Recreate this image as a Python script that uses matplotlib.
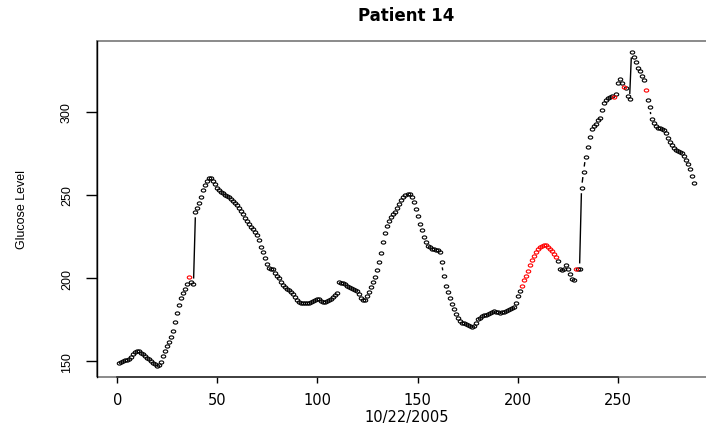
import matplotlib.pyplot as plt
import numpy as np
from matplotlib.path import Path
from matplotlib.patches import Rectangle
from matplotlib import font_manager

# glucose readings, one every 5 minutes (index 1..288)
glucose = [
    148.6, 149.6, 150.2, 150.5, 150.8, 151.2, 152.5, 154.2, 155.5, 156.2,
    155.8, 155.0, 154.0, 153.0, 152.0, 151.0, 150.0, 149.0, 148.0, 147.2,
    147.5, 149.6, 153.2, 156.2, 159.2, 161.5, 164.3, 168.3, 173.4, 179.0,
    183.8, 187.9, 190.9, 193.5, 196.5, 200.9, 197.9, 196.5, 239.8, 242.0,
    245.3, 249.0, 253.0, 256.3, 258.5, 260.2, 260.0, 258.5, 256.5, 254.5,
    253.0, 252.0, 251.0, 250.2, 249.5, 248.6, 247.5, 246.5, 245.0, 243.9,
    242.0, 240.2, 238.5, 236.2, 234.2, 232.5, 231.0, 229.5, 227.5, 225.7,
    222.7, 219.0, 215.7, 212.0, 208.6, 206.3, 205.6, 205.2, 203.0, 201.5,
    199.8, 197.8, 196.0, 194.5, 193.5, 192.6, 191.5, 190.3, 188.5, 186.5,
    185.4, 185.2, 185.0, 185.0, 185.0, 185.2, 185.6, 186.0, 186.8, 187.6,
    187.2, 186.2, 185.4, 185.4, 186.0, 186.8, 187.6, 188.5, 190.0, 191.3,
    197.5, 197.3, 197.0, 196.2, 195.5, 194.5, 194.0, 193.5, 193.0, 192.2,
    190.5, 188.0, 187.0, 187.0, 189.0, 191.5, 194.5, 197.5, 200.9, 205.0,
    209.6, 215.0, 221.5, 227.0, 231.5, 234.5, 236.8, 238.4, 240.0, 242.0,
    244.5, 247.3, 249.0, 250.3, 250.9, 250.5, 248.9, 245.8, 241.8, 237.2,
    232.8, 228.7, 224.7, 221.5, 219.5, 218.5, 217.8, 217.5, 217.2, 216.8,
    215.7, 209.6, 201.5, 195.5, 191.5, 187.9, 184.4, 181.5, 178.5, 176.0,
    174.2, 173.2, 172.8, 172.3, 171.8, 171.0, 170.4, 171.0, 173.0, 175.5,
    176.2, 177.0, 177.5, 178.0, 178.4, 179.0, 179.4, 180.4, 179.8, 179.4,
    179.0, 179.5, 179.8, 180.3, 180.8, 181.3, 181.8, 182.5, 185.0, 189.0,
    192.5, 195.5, 198.6, 201.5, 204.5, 207.6, 210.6, 213.3, 215.7, 217.7,
    218.7, 219.5, 219.7, 219.7, 219.0, 217.8, 216.3, 214.5, 212.7, 210.0,
    205.6, 204.8, 205.6, 208.0, 205.6, 202.6, 199.5, 199.1, 205.6, 205.6,
    205.6, 254.3, 264.0, 273.0, 279.0, 285.0, 289.7, 291.5, 293.0, 295.0,
    296.5, 301.2, 305.3, 307.3, 308.7, 309.3, 309.9, 309.3, 310.7, 317.4,
    319.8, 317.8, 315.3, 314.4, 309.9, 307.7, 336.1, 333.4, 330.0, 326.4,
    324.8, 322.0, 319.2, 313.3, 307.3, 303.2, 295.6, 293.2, 291.8, 290.6,
    290.2, 290.0, 289.2, 287.2, 284.1, 281.7, 280.1, 278.1, 277.3, 276.6,
    275.8, 275.1, 273.7, 271.0, 268.6, 265.6, 261.5, 257.3,
]

# readings drawn in red
red_points = [36, 202, 203, 204, 205, 206, 207, 208, 209, 210, 211, 212,
              213, 214, 215, 216, 217, 218, 219, 229, 248, 253, 264]

title = "Patient 14"
x_label = "10/22/2005"
y_label = "Glucose Level"
x_ticks = [0, 50, 100, 150, 200, 250]
y_ticks = [150, 200, 250, 300]

# the y side text of the original is squeezed; use a narrow face if there is one
try:
    font_manager.findfont(font_manager.FontProperties(family='Liberation Sans Narrow'),
                          fallback_to_default=False)
    narrow = ['Liberation Sans Narrow', 'DejaVu Sans']
    ytick_size, ylab_size = 9.5, 10
except ValueError:
    narrow = ['Liberation Sans', 'DejaVu Sans']
    ytick_size, ylab_size = 9, 9

idx = np.arange(1, len(glucose) + 1)
vals = np.array(glucose)
is_red = np.isin(idx, red_points)

fig = plt.figure(figsize=(7.06, 4.31), dpi=100)
ax = fig.add_axes([96.5 / 706, 53 / 431, 620 / 706, 336 / 431])
ax.set_xlim(-10.48, 299.48)
ax.set_ylim(140.4, 342.8)

# open circles, a bit flattened like the resized original
circ = Path.unit_circle()
oval = Path(circ.vertices * [1.0, 0.72], circ.codes)

ax.plot(idx[~is_red], vals[~is_red], linestyle='none', marker=oval, ms=3.2,
        mfc='none', mec='black', mew=0.8)
ax.plot(idx[is_red], vals[is_red], linestyle='none', marker=oval, ms=3.2,
        mfc='none', mec='red', mew=0.8)

# R type="b": connecting lines only show outside the circles
gap = 6.0
pts = ax.transData.transform(np.column_stack([idx, vals]))
inv = ax.transData.inverted()
for p, q in zip(pts[:-1], pts[1:]):
    d = q - p
    dist = np.hypot(d[0], d[1])
    if dist <= 2 * gap:
        continue
    u = d / dist
    a = inv.transform(p + u * gap)
    b = inv.transform(q - u * gap)
    ax.plot([a[0], b[0]], [a[1], b[1]], color='black', lw=1.0)

# box + R style axes
ax.add_patch(Rectangle((0, 0), 1, 1, transform=ax.transAxes, fill=False,
                       ec='#8a8a8a', lw=1.4, clip_on=False))
for s in ['top', 'right']:
    ax.spines[s].set_visible(False)
ax.spines['bottom'].set_bounds(x_ticks[0], x_ticks[-1])
ax.spines['left'].set_linewidth(1.0)
ax.spines['bottom'].set_linewidth(1.2)
ax.spines['bottom'].set_color('#333333')

ax.set_xticks(x_ticks)
ax.set_yticks(y_ticks)
ax.tick_params(axis='x', direction='out', length=4.5, width=1, pad=6,
               labelsize=10.5)
ax.tick_params(axis='y', direction='out', length=8, width=1, pad=9,
               labelsize=ytick_size, labelrotation=90)
for lab in ax.get_yticklabels():
    lab.set_fontfamily(narrow)
    lab.set_va('center')

ax.set_title(title, fontsize=12, fontweight='bold', pad=15)
ax.set_xlabel(x_label, fontsize=10.5)
ax.xaxis.set_label_coords(0.5, -0.095)
ax.set_ylabel(y_label, fontsize=ylab_size, family=narrow)
ax.yaxis.set_label_coords(-0.11, 0.5)

plt.savefig("out.png", dpi=100)
